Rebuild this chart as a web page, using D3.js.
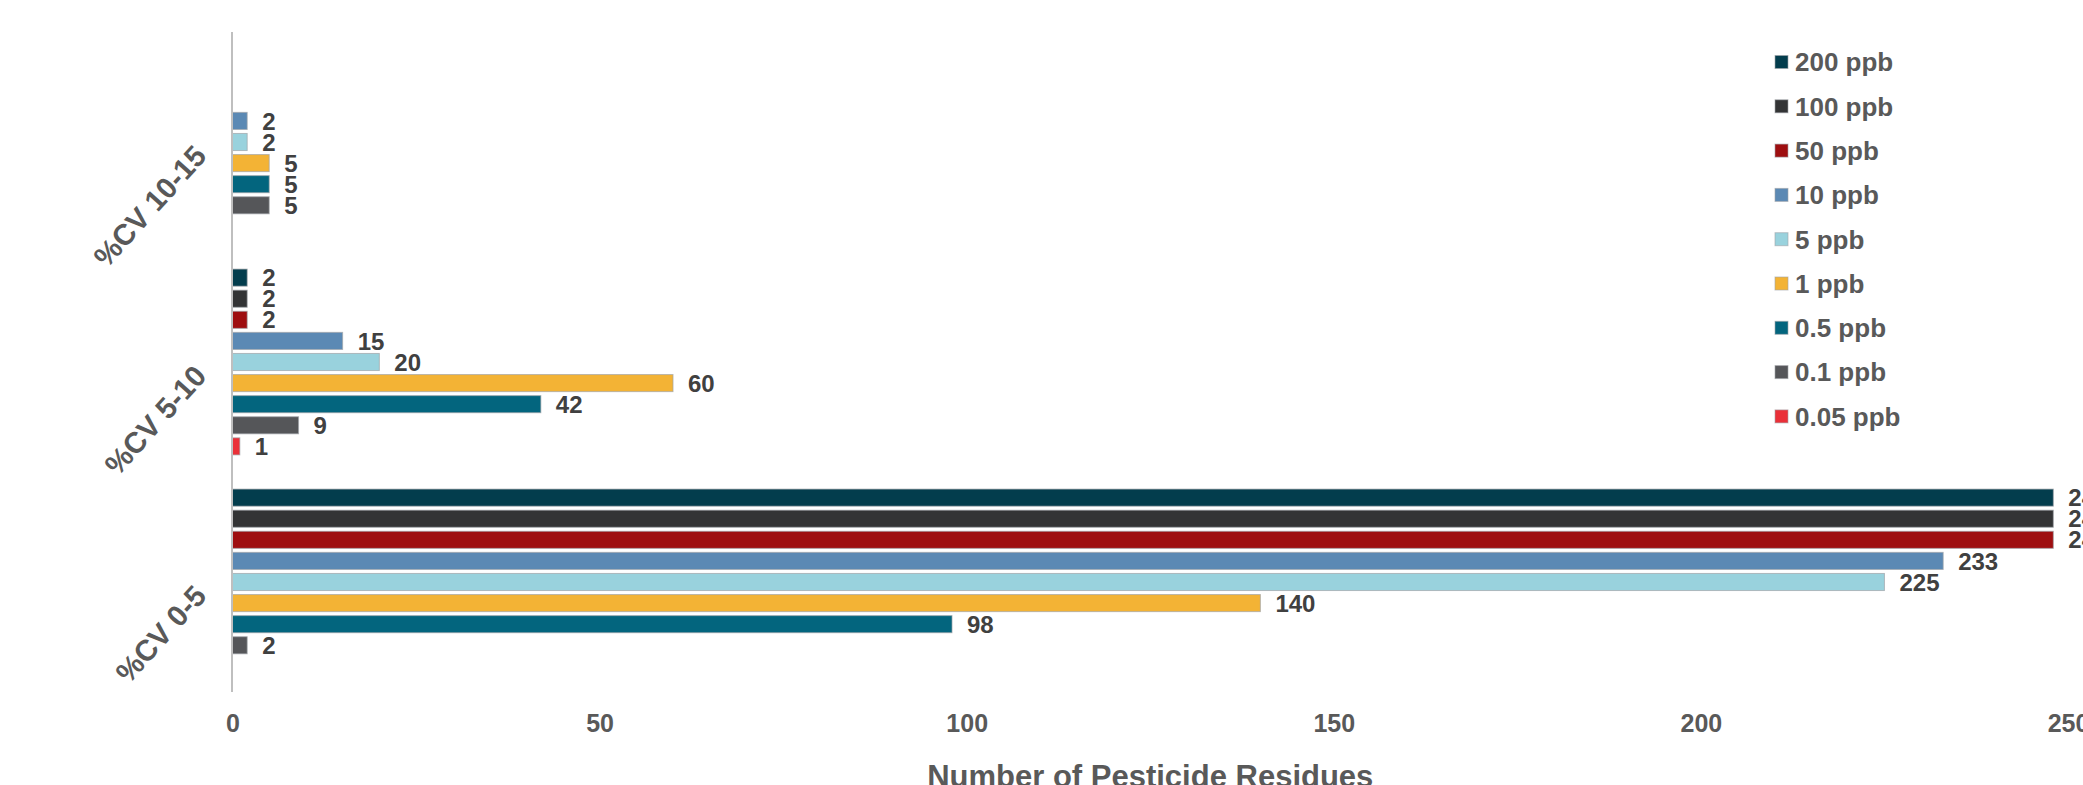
<!DOCTYPE html>
<html>
<head>
<meta charset="utf-8">
<script src="https://cdn.jsdelivr.net/npm/d3@7"></script>
<style>
  html, body { margin: 0; padding: 0; background: #ffffff; overflow: hidden; }
  svg { display: block; font-family: "Liberation Sans", Arial, sans-serif; }
</style>
</head>
<body>
<svg id="chart" width="2083" height="785"></svg>
<script>
// Precision groups (top to bottom)
const categories = ["%CV 10-15", "%CV 5-10", "%CV 0-5"];

// Spiking levels, in bar order within each group
const series = ["200 ppb", "100 ppb", "50 ppb", "10 ppb", "5 ppb", "1 ppb", "0.5 ppb", "0.1 ppb", "0.05 ppb"];

// Number of residues per level, one value per group (same order as categories)
const values200 = [0, 2, 248];
const values100 = [0, 2, 248];
const values50 = [0, 2, 248];
const values10 = [2, 15, 233];
const values5 = [2, 20, 225];
const values1 = [5, 60, 140];
const values05 = [5, 42, 98];
const values01 = [5, 9, 2];
const values005 = [0, 1, 0];

const xTicks = [0, 50, 100, 150, 200, 250];

const colors = ["#033d4d", "#333435", "#9e0e10", "#5b89b4", "#99d2dd", "#f3b335", "#03657e", "#555659", "#ea3038"];

const seriesValues = [values200, values100, values50, values10, values5, values1, values05, values01, values005];

const svg = d3.select("#chart");

const x = d3.scaleLinear().domain([0, 250]).range([232.5, 2068]);
const y0 = d3.scaleBand().domain(categories).range([32, 692]);
const y1 = d3.scaleBand().domain(series).range([0, y0.bandwidth()])
  .paddingInner(0.19).paddingOuter(0.81);
const color = d3.scaleOrdinal().domain(series).range(colors);

// flatten into one record per bar
const records = [];
series.forEach((s, si) => {
  categories.forEach((c, ci) => {
    const v = seriesValues[si][ci];
    if (v > 0) records.push({ series: s, category: c, value: v });
  });
});

// bars
svg.append("g").selectAll("rect")
  .data(records)
  .join("rect")
  .attr("x", x(0))
  .attr("y", d => y0(d.category) + y1(d.series))
  .attr("width", d => x(d.value) - x(0))
  .attr("height", y1.bandwidth())
  .attr("fill", d => color(d.series))
  .attr("stroke", "#a0a4a8")
  .attr("stroke-opacity", 0.7)
  .attr("stroke-width", 1);

// value labels
svg.append("g").selectAll("text")
  .data(records)
  .join("text")
  .attr("x", d => x(d.value) + 15)
  .attr("y", d => y0(d.category) + y1(d.series) + y1.bandwidth() / 2)
  .attr("dy", "0.36em")
  .attr("font-size", 24)
  .attr("font-weight", "bold")
  .attr("fill", "#404040")
  .text(d => d.value);

// vertical category axis line
svg.append("line")
  .attr("x1", 232).attr("x2", 232)
  .attr("y1", 32).attr("y2", 692)
  .attr("stroke", "#bfbfbf")
  .attr("stroke-width", 2);

// category labels, rotated
svg.append("g").selectAll("text")
  .data(categories)
  .join("text")
  .attr("transform", d => `translate(${208},${y0(d) + y0.bandwidth() / 2 + 15}) rotate(-48)`)
  .attr("text-anchor", "end")
  .attr("font-size", 29.5)
  .attr("font-weight", "bold")
  .attr("fill", "#595959")
  .text(d => d);

// x axis ticks (no domain line, no tick marks)
const xAxis = d3.axisBottom(x).tickValues(xTicks).tickSize(0).tickPadding(0).tickFormat(d3.format("d"));
const gx = svg.append("g").attr("transform", "translate(0,732)").call(xAxis);
gx.select(".domain").remove();
gx.selectAll("text")
  .attr("dy", 0)
  .attr("font-size", 25)
  .attr("font-weight", "bold")
  .attr("font-family", "Liberation Sans, Arial, sans-serif")
  .attr("fill", "#595959");

// x axis title
svg.append("text")
  .attr("x", (x(0) + x(250)) / 2)
  .attr("y", 787)
  .attr("text-anchor", "middle")
  .attr("font-size", 31)
  .attr("font-weight", "bold")
  .attr("fill", "#595959")
  .text("Number of Pesticide Residues");

// legend
const legend = svg.append("g").attr("transform", "translate(1775,62)");
const item = legend.selectAll("g")
  .data(series)
  .join("g")
  .attr("transform", (d, i) => `translate(0,${i * 44.3})`);
item.append("rect")
  .attr("x", 0).attr("y", -6.5)
  .attr("width", 13).attr("height", 13)
  .attr("fill", d => color(d))
  .attr("stroke", "#a0a4a8")
  .attr("stroke-opacity", 0.6)
  .attr("stroke-width", 1);
item.append("text")
  .attr("x", 20)
  .attr("y", 0)
  .attr("dy", "0.36em")
  .attr("font-size", 26)
  .attr("font-weight", "bold")
  .attr("fill", "#595959")
  .text(d => d);
</script>
</body>
</html>
